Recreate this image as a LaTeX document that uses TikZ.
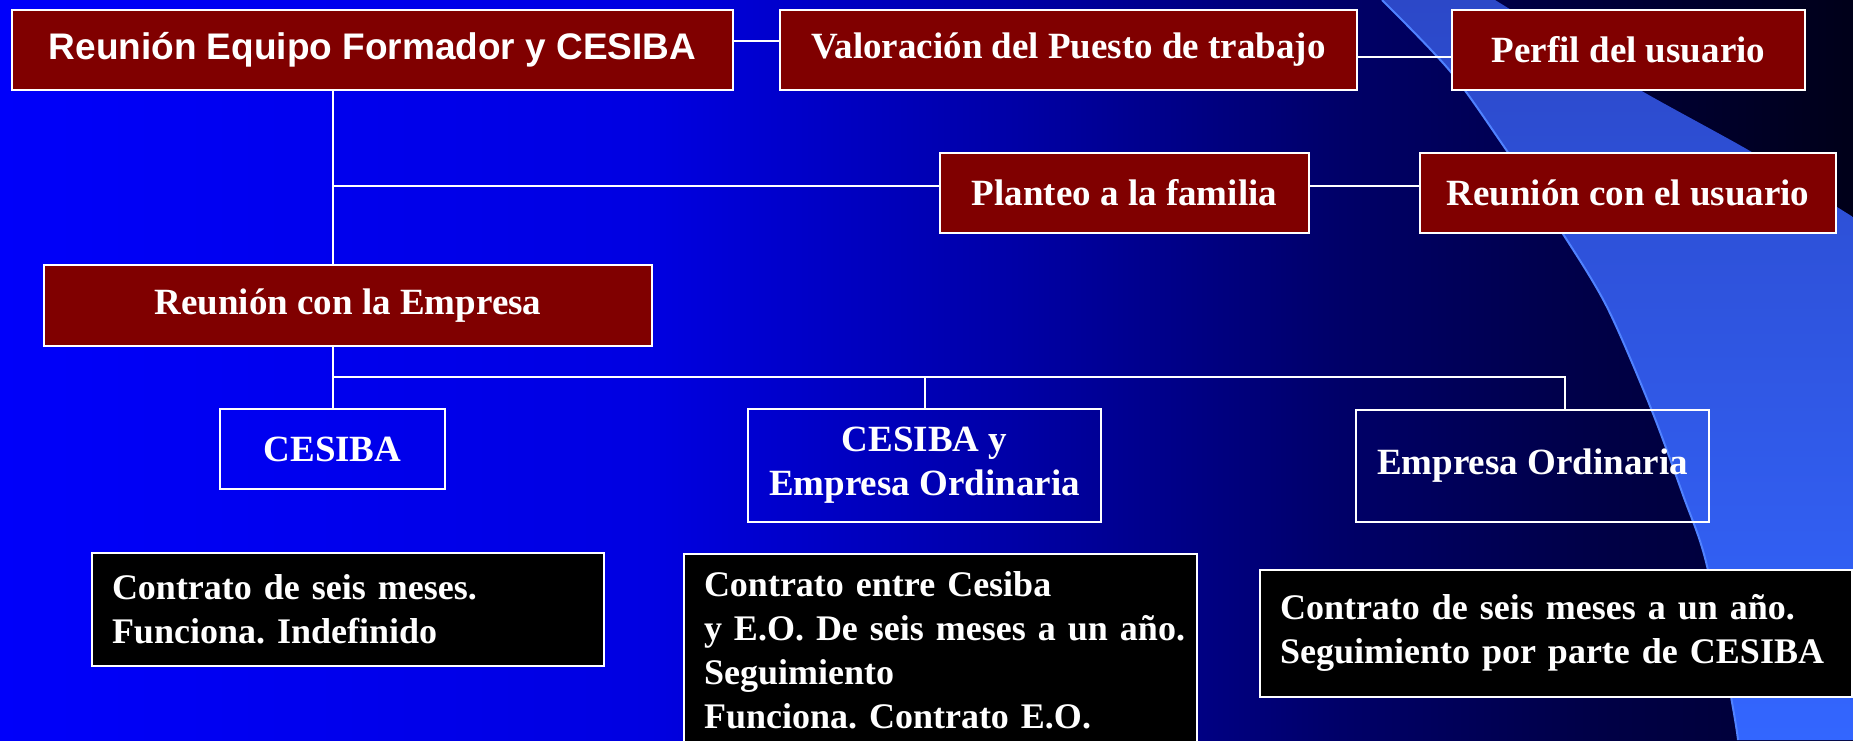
\documentclass[tikz,border=0pt]{standalone}
\usepackage{fontspec}
\setmainfont{Liberation Serif}
\newfontfamily\arialfont{Liberation Sans}
\usepackage{tikz}
\usetikzlibrary{calc}
\usetikzlibrary{positioning}

\definecolor{boxred}{HTML}{800000}
\definecolor{bgA}{RGB}{0,0,250}
\definecolor{bgB}{RGB}{0,0,225}
\definecolor{bgC}{RGB}{0,0,165}
\definecolor{bgD}{RGB}{0,0,105}
\definecolor{bgE}{RGB}{0,0,70}
\definecolor{bgF}{RGB}{0,0,50}
\definecolor{cornerL}{RGB}{0,0,70}
\definecolor{cornerR}{RGB}{0,0,25}
\definecolor{swooshT}{RGB}{44,72,200}
\definecolor{swooshB}{RGB}{51,102,255}
\definecolor{swooshE}{RGB}{80,130,255}

\tikzset{
  redbox/.style={draw=white, line width=1pt, fill=boxred, text=white, inner sep=0pt,
    font=\bfseries\fontsize{18.5}{22}\selectfont},
  bluebox/.style={draw=white, line width=1pt, text=white, inner sep=0pt, align=center,
    font=\bfseries\fontsize{18.5}{22}\selectfont},
  blackbox/.style={draw=white, line width=1pt, fill=black, text=white, align=left,
    inner xsep=10pt, font=\bfseries\fontsize{18}{22}\selectfont\frenchspacing},
  link/.style={draw=white, line width=1pt}
}

\begin{document}
\frenchspacing
\begin{tikzpicture}[x=0.5pt, y=-0.5pt]
            \clip (0,0) rectangle (1853,740);

            % Background
            \shade[left color=bgA, right color=bgB] (0,0) rectangle (651,740);
            \shade[left color=bgB, right color=bgC] (650,0) rectangle (1021,740);
            \shade[left color=bgC, right color=bgD] (1020,0) rectangle (1336,740);
            \shade[left color=bgD, right color=bgE] (1335,0) rectangle (1601,740);
            \shade[left color=bgE, right color=bgF] (1600,0) rectangle (1853,740);

            % Dark corner
            \shade[left color=cornerL, right color=cornerR]
              plot[smooth] coordinates {(1495,0) (1560,40) (1640,90) (1750,151) (1805,187) (1853,217)}
              -- (1853,0) -- cycle;

            % Swoosh
            \shade[top color=swooshT, bottom color=swooshB]
              plot[smooth] coordinates {(1382,0) (1450,71) (1507,151) (1563,234) (1607,307) (1650,406) (1683,495) (1707,566) (1733,708) (1738,740)}
              -- (1853,740) -- (1853,217)
              -- plot[smooth] coordinates {(1805,187) (1750,151) (1640,90) (1560,40) (1495,0)}
              -- cycle;
            \draw[swooshE, line width=1pt]
              plot[smooth] coordinates {(1382,0) (1450,71) (1507,151) (1563,234) (1607,307) (1650,406) (1683,495) (1707,566) (1733,708) (1738,740)};

            % Top row
            \node[redbox, minimum width=360.5pt, minimum height=40pt, font=\arialfont\bfseries\fontsize{18.5}{22}\selectfont]
              (eqf) at (372.5,49.5) {Reunión Equipo Formador y CESIBA};
            \node[redbox, minimum width=288.5pt, minimum height=40pt] (valor) at (1068.5,49.5) {Valoración del Puesto de trabajo};
            \node[redbox, minimum width=176.5pt, minimum height=40pt] (perfil) at (1628.5,49.5) {Perfil del usuario};

            % Family row
            \node[redbox, minimum width=184.5pt, minimum height=40pt] (planteo) at (1124.5,193) {Planteo a la familia};
            \node[redbox, minimum width=208pt, minimum height=40pt] (reuusu) at (1628,193) {Reunión con el usuario};

            % Company
            \node[redbox, minimum width=304pt, minimum height=40.5pt] (empresa) at (348,305.5) {Reunión con la Empresa};

            % Options
            \node[bluebox, minimum width=112.5pt, minimum height=40pt] (cesiba) at (332.5,449) {CESIBA};
            \node[bluebox, minimum width=176.5pt, minimum height=56.5pt] (mixto) at (924.5,465.5) {CESIBA y\\Empresa Ordinaria};
            \node[bluebox, minimum width=176.5pt, minimum height=56pt] (eord) at (1532.5,465.5) {Empresa Ordinaria};

            % Contracts
            \node[blackbox, text width=236pt, minimum height=56.5pt] (txt1) at (348,609.5)
              {\mbox{Contrato de seis meses.}\\\mbox{Funciona. Indefinido}};
            \node[blackbox, text width=236.5pt, anchor=north, inner ysep=9pt] (txt2) at (940.5,553)
              {\mbox{Contrato entre Cesiba}\\\mbox{y E.O. De seis meses a un año.}\\\mbox{Seguimiento}\\\mbox{Funciona. Contrato E.O.}\\[6pt]};
            \node[blackbox, text width=276pt, minimum height=63.5pt] (txt3) at (1556,633)
              {\mbox{Contrato de seis meses a un año.}\\\mbox{Seguimiento por parte de CESIBA}};

            % Connectors
            \draw[link] ([yshift=4.25pt]eqf.east) -- ([yshift=4.25pt]valor.west);
            \draw[link] ([yshift=-3.75pt]valor.east) -- ([yshift=-3.75pt]perfil.west);
            \draw[link] (eqf.south -| cesiba.north) -- (empresa.north -| cesiba.north);
            \coordinate (fam) at (332.5,185.5);
            \draw[link] (fam) -- (fam -| planteo.west);
            \draw[link] ([yshift=3.75pt]planteo.east) -- ([yshift=3.75pt]reuusu.west);
            \draw[link] (empresa.south -| cesiba.north) -- (cesiba.north);
            \coordinate (bus) at (332.5,377);
            \coordinate (busend) at (1565,377);
            \draw[link] (bus) -- (busend) -- (busend |- eord.north);
            \draw[link] (bus -| mixto.north) -- (mixto.north);

        \end{tikzpicture}
\end{document}
